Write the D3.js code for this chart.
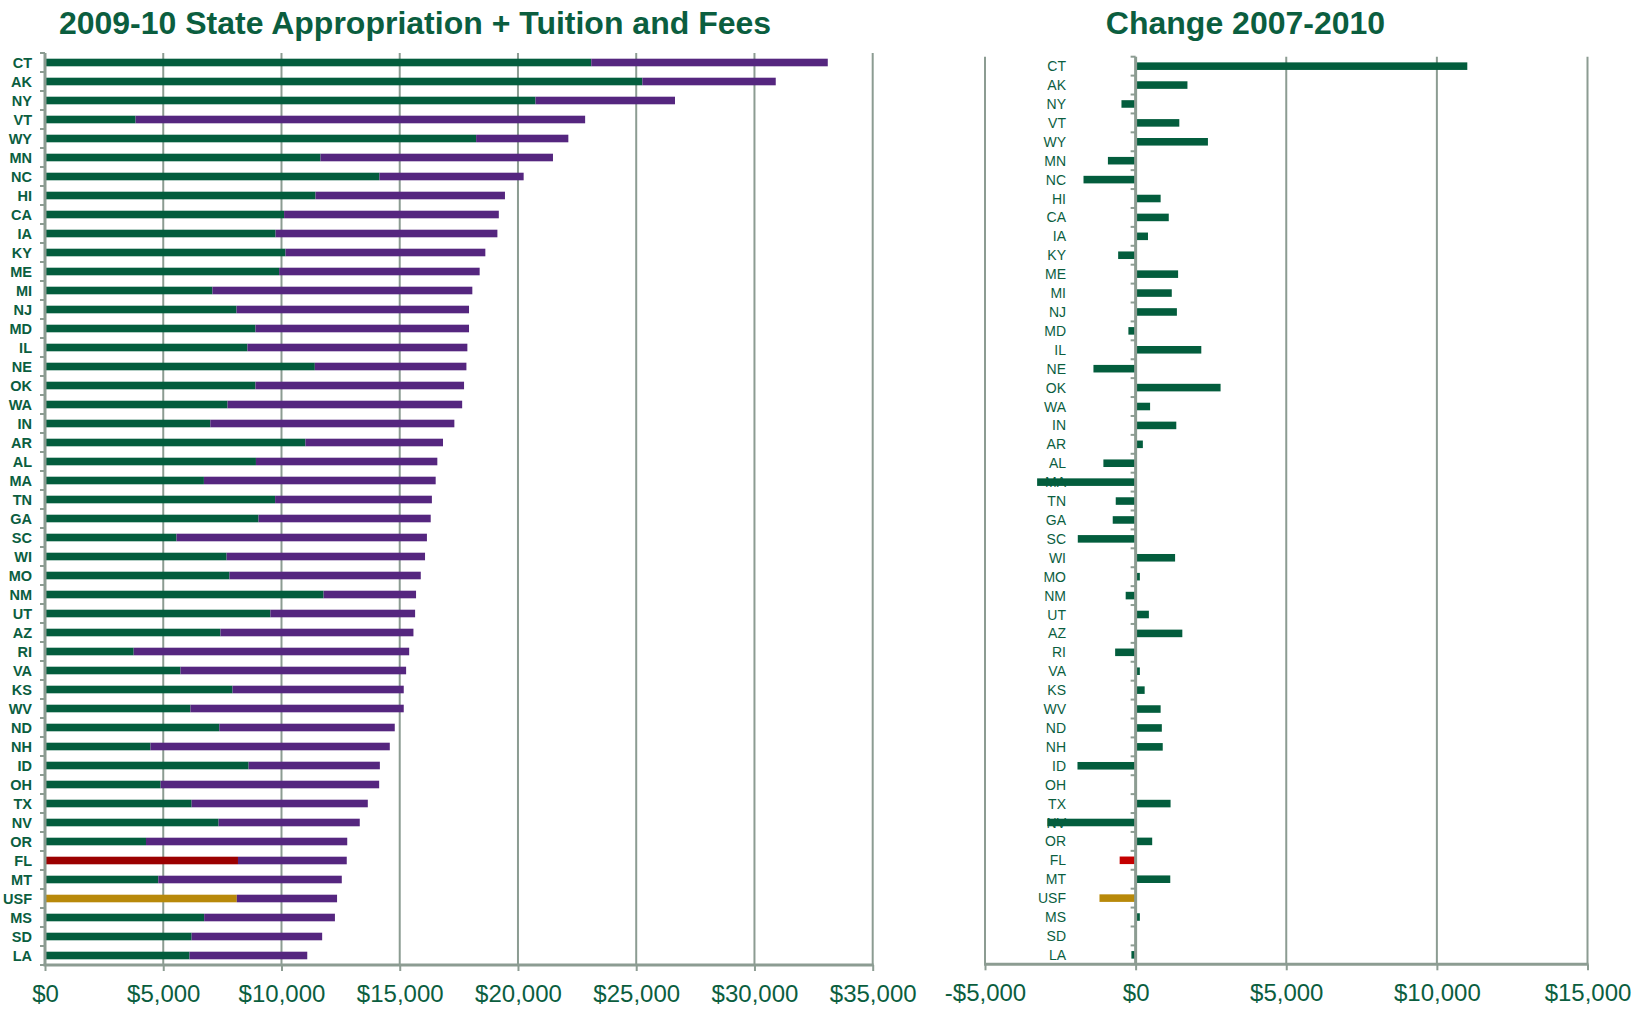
<!DOCTYPE html>
<html>
<head>
<meta charset="utf-8">
<script src="https://cdn.jsdelivr.net/npm/d3@7"></script>
<style>
  html, body { margin: 0; padding: 0; background: #ffffff; }
  svg { display: block; }
</style>
</head>
<body>
<svg id="chart" width="1650" height="1013"></svg>
<script>
// ---------------- DATA ----------------
const states = ["CT","AK","NY","VT","WY","MN","NC","HI","CA","IA","KY","ME","MI","NJ","MD","IL","NE","OK","WA","IN","AR","AL","MA","TN","GA","SC","WI","MO","NM","UT","AZ","RI","VA","KS","WV","ND","NH","ID","OH","TX","NV","OR","FL","MT","USF","MS","SD","LA"];

// 2009-10 state appropriation per FTE ($)
const appropriation = [23100,25260,20740,3830,18230,11650,14140,11440,10110,9750,10170,9900,7080,8100,8900,8560,11410,8900,7720,6990,11010,8920,6720,9730,9030,5560,7680,7800,11780,9530,7420,3750,5730,7930,6150,7370,4460,8610,4890,6200,7340,4270,8160,4790,8110,6730,6200,6110];

// 2009-10 tuition and fees per FTE ($)
const tuitionFees = [10000,5640,5900,19010,3900,9830,6100,8010,9080,9380,8450,8480,10990,9830,9030,9300,6410,8820,9920,10320,5820,7670,9800,6630,7280,10590,8390,8090,3910,6120,8160,11650,9540,7240,9020,7420,10120,5550,9240,7450,5970,8510,4600,7760,4240,5530,5520,4980];

// Change 2007-2010 ($)
const change2007to2010 = [11010,1720,-470,1450,2400,-920,-1730,830,1100,410,-580,1410,1200,1370,-240,2180,-1400,2820,480,1350,240,-1070,-3270,-660,-760,-1920,1310,140,-330,440,1550,-680,140,300,830,870,900,-1930,-20,1160,-2930,550,-530,1150,-1200,140,0,-140];

const leftTickValues = [0,5000,10000,15000,20000,25000,30000,35000];
const leftTickLabels = ["$0","$5,000","$10,000","$15,000","$20,000","$25,000","$30,000","$35,000"];
const rightTickValues = [-5000,0,5000,10000,15000];
const rightTickLabels = ["-$5,000","$0","$5,000","$10,000","$15,000"];

const leftTitle = "2009-10 State Appropriation + Tuition and Fees";
const rightTitle = "Change 2007-2010";

// ---------------- STYLE ----------------
const GREEN = "#035d3d";
const TEXT_GREEN = "#0b5e3f";
const PURPLE = "#55267f";
const GRID = "#8c9c92";
const FL_LEFT = "#9b0000";
const FL_RIGHT = "#c40000";
const USF_GOLD = "#b8890a";
const FONT = "'Liberation Sans', Arial, sans-serif";

const svg = d3.select("#chart");

function leftColor(s) { return s === "FL" ? FL_LEFT : s === "USF" ? USF_GOLD : GREEN; }
function rightColor(s) { return s === "FL" ? FL_RIGHT : s === "USF" ? USF_GOLD : GREEN; }

// ---------------- LEFT CHART ----------------
const L = { x0: 45, x1: 872.7, y0: 53, y1: 965 };
const xL = d3.scaleLinear().domain([0, 35000]).range([L.x0, L.x1]);
const yL = d3.scaleBand().domain(states).range([L.y0, L.y1]).paddingInner(0.6).paddingOuter(0.3);

const gL = svg.append("g");

// gridlines
gL.append("g").selectAll("line")
  .data(leftTickValues.filter(v => v !== 0))
  .join("line")
  .attr("x1", d => xL(d)).attr("x2", d => xL(d))
  .attr("y1", L.y0).attr("y2", L.y1)
  .attr("stroke", GRID).attr("stroke-width", 2);

// state labels
gL.append("g").selectAll("text")
  .data(states)
  .join("text")
  .attr("x", 32)
  .attr("y", d => yL(d) + yL.bandwidth() / 2)
  .attr("dy", "0.36em")
  .attr("text-anchor", "end")
  .attr("font-family", FONT)
  .attr("font-weight", "bold")
  .attr("font-size", 14.5)
  .attr("fill", TEXT_GREEN)
  .text(d => d);

// stacked bars
const leftRows = states.map((s, i) => ({ s, a: appropriation[i], t: tuitionFees[i] }));
gL.append("g").selectAll("rect.app")
  .data(leftRows)
  .join("rect")
  .attr("class", "app")
  .attr("x", xL(0))
  .attr("y", d => yL(d.s))
  .attr("width", d => xL(d.a) - xL(0))
  .attr("height", yL.bandwidth())
  .attr("fill", d => leftColor(d.s));
gL.append("g").selectAll("rect.tui")
  .data(leftRows)
  .join("rect")
  .attr("class", "tui")
  .attr("x", d => xL(d.a))
  .attr("y", d => yL(d.s))
  .attr("width", d => xL(d.a + d.t) - xL(d.a))
  .attr("height", yL.bandwidth())
  .attr("fill", PURPLE);

// left vertical axis line + ticks at band boundaries
const stepL = yL.step();
const boundsL = states.map(s => yL(s) - (stepL - yL.bandwidth()) / 2).concat([L.y1]);
gL.append("line").attr("x1", L.x0).attr("x2", L.x0).attr("y1", L.y0).attr("y2", L.y1)
  .attr("stroke", GRID).attr("stroke-width", 3);
gL.append("g").selectAll("line").data(boundsL).join("line")
  .attr("x1", L.x0 - 5).attr("x2", L.x0).attr("y1", d => d).attr("y2", d => d)
  .attr("stroke", GRID).attr("stroke-width", 2);

// bottom axis
const axL = d3.axisBottom(xL)
  .tickValues(leftTickValues)
  .tickFormat((d, i) => leftTickLabels[i])
  .tickSize(6)
  .tickSizeOuter(0)
  .tickPadding(14);
const gAxL = gL.append("g").attr("transform", `translate(0,${L.y1})`).call(axL);
gAxL.select(".domain").attr("stroke", GRID).attr("stroke-width", 3)
  .attr("d", `M${L.x0 - 1.5},0H${L.x1 + 1}`);
gAxL.selectAll(".tick line").attr("stroke", GRID).attr("stroke-width", 2);
gAxL.selectAll(".tick text")
  .attr("font-family", FONT).attr("font-size", 24).attr("fill", TEXT_GREEN);

// left title
svg.append("text")
  .attr("x", 415).attr("y", 34)
  .attr("text-anchor", "middle")
  .attr("font-family", FONT).attr("font-weight", "bold").attr("font-size", 32)
  .attr("fill", TEXT_GREEN)
  .text(leftTitle);

// ---------------- RIGHT CHART ----------------
const R = { x0: 985, x1: 1587.5, y0: 56.7, y1: 964.3 };
const xR = d3.scaleLinear().domain([-5000, 15000]).range([R.x0, R.x1]);
const yR = d3.scaleBand().domain(states).range([R.y0, R.y1]).paddingInner(0.6).paddingOuter(0.3);

const gR = svg.append("g");

gR.append("g").selectAll("line")
  .data(rightTickValues.filter(v => v !== 0))
  .join("line")
  .attr("x1", d => xR(d)).attr("x2", d => xR(d))
  .attr("y1", R.y0).attr("y2", R.y1)
  .attr("stroke", GRID).attr("stroke-width", 2);

// labels (drawn beneath bars)
gR.append("g").selectAll("text")
  .data(states)
  .join("text")
  .attr("x", 1066)
  .attr("y", d => yR(d) + yR.bandwidth() / 2)
  .attr("dy", "0.36em")
  .attr("text-anchor", "end")
  .attr("font-family", FONT)
  .attr("font-size", 14)
  .attr("fill", TEXT_GREEN)
  .text(d => d);

const rightRows = states.map((s, i) => ({ s, v: change2007to2010[i] }));
gR.append("g").selectAll("rect")
  .data(rightRows)
  .join("rect")
  .attr("x", d => Math.min(xR(0), xR(d.v)))
  .attr("y", d => yR(d.s))
  .attr("width", d => Math.abs(xR(d.v) - xR(0)))
  .attr("height", yR.bandwidth())
  .attr("fill", d => rightColor(d.s));

const stepR = yR.step();
const boundsR = states.map(s => yR(s) - (stepR - yR.bandwidth()) / 2).concat([R.y1]);
gR.append("line").attr("x1", xR(0)).attr("x2", xR(0)).attr("y1", R.y0).attr("y2", R.y1)
  .attr("stroke", GRID).attr("stroke-width", 3);
gR.append("g").selectAll("line").data(boundsR).join("line")
  .attr("x1", xR(0) - 5).attr("x2", xR(0)).attr("y1", d => d).attr("y2", d => d)
  .attr("stroke", GRID).attr("stroke-width", 2);

const axR = d3.axisBottom(xR)
  .tickValues(rightTickValues)
  .tickFormat((d, i) => rightTickLabels[i])
  .tickSize(6)
  .tickSizeOuter(0)
  .tickPadding(14);
const gAxR = gR.append("g").attr("transform", `translate(0,${R.y1})`).call(axR);
gAxR.select(".domain").attr("stroke", GRID).attr("stroke-width", 3)
  .attr("d", `M${R.x0 - 1},0H${R.x1 + 1}`);
gAxR.selectAll(".tick line").attr("stroke", GRID).attr("stroke-width", 2);
gAxR.selectAll(".tick text")
  .attr("font-family", FONT).attr("font-size", 24).attr("fill", TEXT_GREEN);

svg.append("text")
  .attr("x", 1245.5).attr("y", 34)
  .attr("text-anchor", "middle")
  .attr("font-family", FONT).attr("font-weight", "bold").attr("font-size", 32)
  .attr("fill", TEXT_GREEN)
  .text(rightTitle);
</script>
</body>
</html>
